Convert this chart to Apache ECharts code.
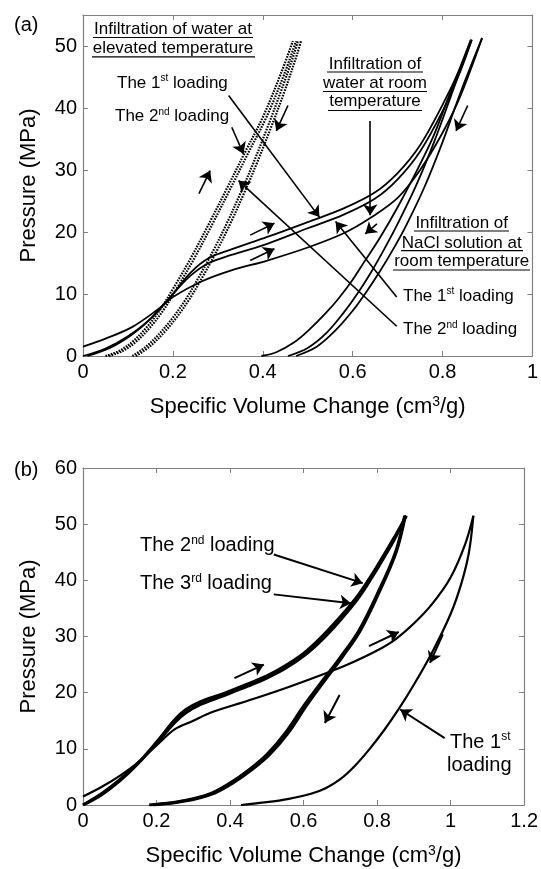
<!DOCTYPE html>
<html>
<head>
<meta charset="utf-8">
<script src="https://cdn.jsdelivr.net/npm/echarts@6/dist/echarts.min.js"></script>
<style>html,body{margin:0;padding:0;background:#fff;}#c{width:541px;height:869px;}</style>
</head>
<body>
<div id="c"></div>
<script>
// ---------- Panel (a) data ----------
const xTicksA = [0, 0.2, 0.4, 0.6, 0.8, 1];
const yTicksA = [0, 10, 20, 30, 40, 50];
// NaCl solution, room temperature, 1st and 2nd loading
const naclLoad1X = [0, 0.05, 0.10, 0.15, 0.20, 0.24, 0.28, 0.33, 0.41, 0.50, 0.58, 0.65, 0.70, 0.75, 0.80, 0.84, 0.865];
const naclLoad1Y = [0, 1.2, 3.2, 6.0, 10.0, 13.5, 15.8, 17.2, 19.2, 21.6, 23.8, 26.4, 29.5, 34, 40.5, 46.5, 51];
const naclLoad2X = [0.01, 0.06, 0.11, 0.15, 0.20, 0.24, 0.28, 0.33, 0.41, 0.50, 0.58, 0.65, 0.70, 0.75, 0.80, 0.84, 0.865];
const naclLoad2Y = [0, 1.3, 3.5, 6.0, 10.0, 13.0, 15.0, 16.3, 18.1, 20.6, 22.8, 25.4, 28.5, 33, 39.5, 46, 51];
// Water, room temperature, loading
const waterLoadX = [0, 0.05, 0.11, 0.17, 0.20, 0.26, 0.33, 0.41, 0.50, 0.58, 0.64, 0.70, 0.75, 0.80, 0.84, 0.888];
const waterLoadY = [1.5, 2.8, 4.7, 7.7, 9.5, 11.9, 13.8, 15.4, 17.5, 19.8, 22.3, 25.5, 30, 36, 42, 51.3];
// Unloading curves, room temperature
const unload1X = [0.397, 0.43, 0.47, 0.50, 0.54, 0.57, 0.60, 0.625, 0.66, 0.70, 0.74, 0.78, 0.82, 0.863];
const unload1Y = [0, 0.6, 2.2, 4.0, 6.9, 9.4, 12.3, 15.1, 19, 24, 29.5, 35.5, 43, 51];
const unload2X = [0.456, 0.50, 0.54, 0.58, 0.61, 0.64, 0.67, 0.70, 0.74, 0.78, 0.82, 0.863];
const unload2Y = [0, 1.3, 3.6, 7, 10, 13.4, 17.2, 21.3, 27.3, 34.3, 42.2, 51];
const unload3X = [0.474, 0.52, 0.56, 0.60, 0.63, 0.66, 0.69, 0.72, 0.76, 0.80, 0.84, 0.888];
const unload3Y = [0, 1.5, 4, 7.3, 10.3, 13.6, 17.2, 21.2, 27.3, 34.5, 42.5, 51.3];
// Water, elevated temperature (dotted)
const hotLoad1X = [0.05, 0.08, 0.11, 0.14, 0.17, 0.20, 0.24, 0.28, 0.32, 0.36, 0.40, 0.44, 0.467];
const hotLoad1Y = [0, 0.8, 2.3, 4.5, 7.3, 10.8, 15.8, 21.3, 27.0, 32.8, 38.5, 45.5, 50.8];
const hotLoad2X = [0.058, 0.088, 0.118, 0.148, 0.178, 0.208, 0.248, 0.288, 0.328, 0.368, 0.408, 0.448, 0.474];
const hotLoad2Y = [0, 0.8, 2.3, 4.5, 7.3, 10.8, 15.8, 21.3, 27.0, 32.8, 38.5, 45.5, 50.8];
const hotUnload1X = [0.11, 0.14, 0.17, 0.20, 0.23, 0.26, 0.29, 0.32, 0.35, 0.38, 0.41, 0.44, 0.47, 0.478];
const hotUnload1Y = [0, 1.5, 3.6, 6.2, 9.3, 13, 17, 21.4, 26.2, 31.3, 36.8, 42.6, 48.8, 50.8];
const hotUnload2X = [0.118, 0.148, 0.178, 0.208, 0.238, 0.268, 0.298, 0.328, 0.358, 0.388, 0.418, 0.448, 0.476, 0.485];
const hotUnload2Y = [0, 1.5, 3.6, 6.2, 9.3, 13, 17, 21.4, 26.2, 31.3, 36.8, 42.6, 48.6, 50.8];
// Arrows in panel (a): [x1, y1, x2, y2]
const arrowsA = [
  [0.324, 42.0, 0.526, 22.4],
  [0.331, 36.9, 0.357, 32.6],
  [0.639, 37.9, 0.639, 22.7],
  [0.698, 9.5, 0.562, 21.7],
  [0.698, 4.8, 0.346, 28.3],
  [0.258, 26.2, 0.283, 29.9],
  [0.456, 40.4, 0.430, 36.3],
  [0.856, 40.4, 0.830, 36.3],
  [0.372, 19.5, 0.426, 21.4],
  [0.372, 15.4, 0.426, 17.3],
  [0.654, 21.3, 0.628, 19.7]
];

// ---------- Panel (b) data ----------
const xTicksB = [0, 0.2, 0.4, 0.6, 0.8, 1, 1.2];
const yTicksB = [0, 10, 20, 30, 40, 50, 60];
const firstLoadX = [0, 0.05, 0.10, 0.15, 0.20, 0.25, 0.30, 0.35, 0.45, 0.55, 0.65, 0.72, 0.80, 0.85, 0.90, 0.95, 1.0, 1.04, 1.062];
const firstLoadY = [1.5, 3.2, 5.2, 7.6, 10.6, 13.5, 15, 16.5, 18.6, 20.8, 23.2, 25, 27.5, 29.5, 32.3, 35.8, 40.5, 46.5, 51.5];
const firstUnloadX = [0.43, 0.50, 0.56, 0.62, 0.66, 0.70, 0.74, 0.78, 0.82, 0.86, 0.90, 0.95, 1.00, 1.03, 1.05, 1.062];
const firstUnloadY = [0, 0.5, 1.1, 2.0, 3.0, 4.6, 7.0, 10.0, 13.4, 17.2, 21.4, 27.2, 34, 39.6, 45, 51.5];
const secondLoadX = [0, 0.05, 0.10, 0.15, 0.20, 0.25, 0.28, 0.32, 0.38, 0.45, 0.50, 0.55, 0.60, 0.65, 0.70, 0.75, 0.80, 0.85, 0.88];
const secondLoadY = [0, 2, 4.5, 7.5, 11.2, 15.2, 17, 18.4, 19.8, 21.6, 23, 24.8, 27, 30, 33.5, 37.5, 42.5, 48, 51.5];
const thirdLoadX = [0, 0.05, 0.10, 0.15, 0.20, 0.25, 0.28, 0.32, 0.38, 0.45, 0.50, 0.55, 0.60, 0.65, 0.70, 0.75, 0.80, 0.85, 0.878];
const thirdLoadY = [0, 1.8, 4.3, 7.4, 11.0, 14.7, 16.4, 17.9, 19.4, 21.2, 22.6, 24.3, 26.5, 29.4, 32.9, 36.9, 42, 47.6, 51.5];
const secondUnloadX = [0.18, 0.25, 0.30, 0.35, 0.40, 0.45, 0.50, 0.55, 0.60, 0.65, 0.70, 0.75, 0.80, 0.85, 0.875];
const secondUnloadY = [0, 0.5, 1.1, 2.1, 3.9, 6.2, 9, 12.8, 17.6, 22, 26.3, 31, 37.5, 45, 51.5];
const thirdUnloadX = [0.19, 0.258, 0.308, 0.358, 0.408, 0.458, 0.508, 0.558, 0.607, 0.656, 0.705, 0.754, 0.803, 0.852, 0.877];
const thirdUnloadY = [0, 0.5, 1.1, 2.1, 3.9, 6.2, 9, 12.8, 17.6, 22, 26.3, 31, 37.5, 45, 51.5];
const arrowsB = [
  [0.519, 44.6, 0.761, 39.5],
  [0.519, 37.5, 0.729, 35.9],
  [0.984, 11.9, 0.863, 17.0],
  [0.412, 22.6, 0.492, 25.0],
  [0.778, 28.3, 0.859, 30.8],
  [0.698, 19.6, 0.658, 14.6],
  [0.979, 30.4, 0.944, 25.3]
];

// ---------- build ----------
const FONT = 'Liberation Sans, Arial, Helvetica, sans-serif';
const AXC = '#808080';
function zip(xs, ys) { return xs.map((x, i) => [x, ys[i]]); }

function curve(xs, ys, panel, opts) {
  opts = opts || {};
  return {
    type: 'line', xAxisIndex: panel * 2, yAxisIndex: panel * 2,
    data: zip(xs, ys), showSymbol: false, symbol: 'none', smooth: 0.35,
    silent: true, animation: false, clip: true,
    lineStyle: { color: '#000', width: opts.width || 1.8, type: opts.dash || 'solid' }
  };
}
function arrowSeries(list, panel, width) {
  return {
    type: 'line', xAxisIndex: panel * 2, yAxisIndex: panel * 2, data: [],
    silent: true, animation: false,
    markLine: {
      silent: true, animation: false, symbol: ['none', 'arrow'], symbolSize: 11,
      label: { show: false }, emphasis: { disabled: true },
      lineStyle: { color: '#000', width: width, type: 'solid' },
      data: list.map(a => [{ coord: [a[0], a[1]] }, { coord: [a[2], a[3]] }])
    }
  };
}
function valAxis(grid, pos, min, max, ticks, showLab, extra) {
  const iv = ticks[1] - ticks[0];
  return Object.assign({
    gridIndex: grid, type: 'value', position: pos, min: min, max: max, interval: iv,
    axisLine: { show: true, onZero: false, lineStyle: { color: AXC, width: 1.2 } },
    axisTick: { show: true, inside: true, length: 5, lineStyle: { color: AXC, width: 1 } },
    axisLabel: {
      show: showLab, color: '#000', fontSize: 20, fontFamily: FONT, margin: 6,
      formatter: v => (ticks.some(t => Math.abs(t - v) < 1e-9) ? String(+v.toFixed(2)) : '')
    },
    splitLine: { show: false }
  }, extra || {});
}
const supRich = { sup: { fontSize: 14, fontFamily: FONT, color: '#000', verticalAlign: 'top', lineHeight: 14 } };
const xName = { name: 'Specific Volume Change (cm{sup|3}/g)', nameLocation: 'middle', nameGap: 39,
  nameTextStyle: { fontSize: 22, fontFamily: FONT, color: '#000', lineHeight: 24, rich: supRich } };
const yName = { name: 'Pressure (MPa)', nameLocation: 'middle', nameGap: 43,
  nameTextStyle: { fontSize: 22, fontFamily: FONT, color: '#000' } };

function txt(x, y, text, size, align) {
  const sup = Math.round(size * 0.6);
  return {
    type: 'text', silent: true, x: x, y: y,
    style: {
      text: text, fill: '#000', font: size + 'px ' + FONT, fontSize: size, fontFamily: FONT,
      align: align || 'left', textAlign: align || 'left', verticalAlign: 'middle', textVerticalAlign: 'middle',
      lineHeight: size + 3,
      rich: { s: { fontSize: sup, fontFamily: FONT, fill: '#000', verticalAlign: 'top', lineHeight: sup + 3 } }
    }
  };
}
function uline(x1, x2, y) {
  return { type: 'line', silent: true, shape: { x1: x1, y1: y, x2: x2, y2: y }, style: { stroke: '#000', lineWidth: 1.2 } };
}

const option = {
  backgroundColor: '#fff',
  animation: false,
  grid: [
    { left: 83, top: 15, width: 454, height: 341 },
    { left: 83, top: 468, width: 448, height: 337 }
  ],
  xAxis: [
    valAxis(0, 'bottom', 0, 1, xTicksA, true, xName),
    valAxis(0, 'top', 0, 1, xTicksA, false),
    valAxis(1, 'bottom', 0, 1.2, xTicksB, true, xName),
    valAxis(1, 'top', 0, 1.2, xTicksB, false)
  ],
  yAxis: [
    valAxis(0, 'left', 0, 55, yTicksA, true, yName),
    valAxis(0, 'right', 0, 55, yTicksA, false),
    valAxis(1, 'left', 0, 60, yTicksB, true, yName),
    valAxis(1, 'right', 0, 60, yTicksB, false)
  ],
  series: [
    curve(naclLoad1X, naclLoad1Y, 0),
    curve(naclLoad2X, naclLoad2Y, 0),
    curve(waterLoadX, waterLoadY, 0),
    curve(unload1X, unload1Y, 0),
    curve(unload2X, unload2Y, 0),
    curve(unload3X, unload3Y, 0),
    curve(hotLoad1X, hotLoad1Y, 0, { width: 2.2, dash: [1.6, 1.2] }),
    curve(hotLoad2X, hotLoad2Y, 0, { width: 2.2, dash: [1.6, 1.2] }),
    curve(hotUnload1X, hotUnload1Y, 0, { width: 2.2, dash: [1.6, 1.2] }),
    curve(hotUnload2X, hotUnload2Y, 0, { width: 2.2, dash: [1.6, 1.2] }),
    arrowSeries(arrowsA, 0, 1.6),
    curve(firstLoadX, firstLoadY, 1, { width: 2.2 }),
    curve(firstUnloadX, firstUnloadY, 1, { width: 2.2 }),
    curve(secondLoadX, secondLoadY, 1, { width: 3 }),
    curve(thirdLoadX, thirdLoadY, 1, { width: 3 }),
    curve(secondUnloadX, secondUnloadY, 1, { width: 3 }),
    curve(thirdUnloadX, thirdUnloadY, 1, { width: 3 }),
    arrowSeries(arrowsB, 1, 2)
  ],
  graphic: [
    txt(14, 25, '(a)', 20),
    txt(14, 470, '(b)', 20),
    // elevated temperature block
    txt(173, 29, 'Infiltration of water at', 17, 'center'),
    txt(173, 48.4, 'elevated temperature', 17, 'center'),
    uline(93, 253, 37.5), uline(92, 255, 56.8),
    txt(117, 83, 'The 1{s|st} loading', 17),
    txt(115, 116.8, 'The 2{s|nd} loading', 17),
    // room temperature water block
    txt(375, 64.5, 'Infiltration of', 17, 'center'),
    txt(375, 83.4, 'water at room', 17, 'center'),
    txt(375, 101.8, 'temperature', 17, 'center'),
    uline(327, 423, 72), uline(323, 427, 91.5), uline(328, 422, 110.5),
    // NaCl block
    txt(461.7, 223.4, 'Infiltration of', 17, 'center'),
    txt(461.7, 243.4, 'NaCl solution at', 17, 'center'),
    txt(461.7, 261.4, 'room temperature', 17, 'center'),
    uline(414, 509, 231), uline(401, 523, 250.7), uline(393, 530, 270),
    txt(403, 296.1, 'The 1{s|st} loading', 17),
    txt(403, 329.8, 'The 2{s|nd} loading', 17),
    // panel b labels
    txt(140, 545.8, 'The 2{s|nd} loading', 20),
    txt(140, 583.8, 'The 3{s|rd} loading', 20),
    txt(450, 742.4, 'The 1{s|st}', 20),
    txt(447, 765.8, 'loading', 20)
  ]
};
const chart = echarts.init(document.getElementById('c'), null, { renderer: 'canvas' });
chart.setOption(option);
</script>
</body>
</html>
